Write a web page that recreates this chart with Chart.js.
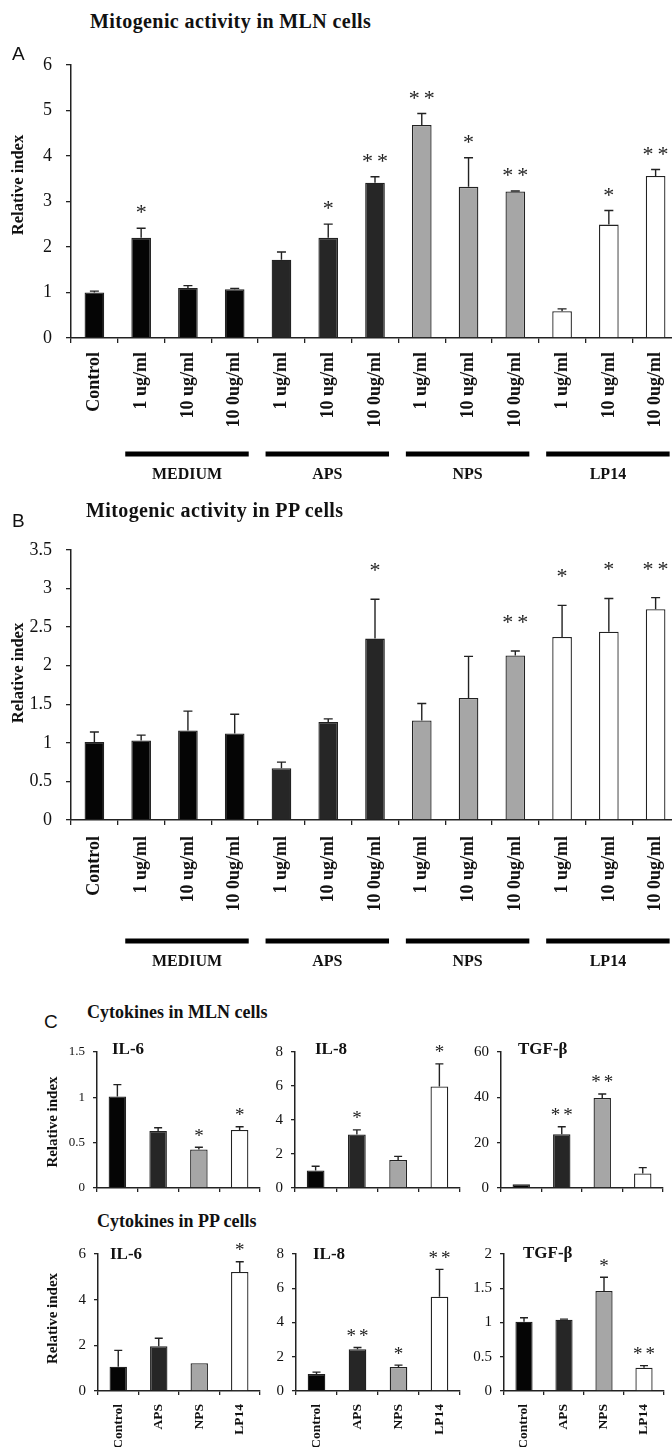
<!DOCTYPE html>
<html><head><meta charset="utf-8">
<script src="https://cdn.jsdelivr.net/npm/chart.js@4.4.1/dist/chart.umd.min.js"></script>
<style>
html,body{margin:0;padding:0;background:#fff;width:672px;height:1447px;overflow:hidden;position:relative}
canvas{position:absolute}
.t{position:absolute;white-space:nowrap;line-height:1;color:#111;z-index:5}
.sb{font-family:'Liberation Serif','Times New Roman',serif;font-weight:bold}
.ss{font-family:'Liberation Sans',Arial,sans-serif}
</style></head><body>
<div class="t ss" style="left:12px;top:44px;font-size:19px">A</div>
<div class="t sb" style="left:90px;top:11px;font-size:20px;letter-spacing:0.4px">Mitogenic activity in MLN cells</div>
<div class="t ss" style="left:12px;top:511px;font-size:19px">B</div>
<div class="t sb" style="left:86px;top:500px;font-size:20px;letter-spacing:0.4px">Mitogenic activity in PP cells</div>
<div class="t ss" style="left:44px;top:1012px;font-size:19px">C</div>
<div class="t sb" style="left:87px;top:1003px;font-size:18px">Cytokines in MLN cells</div>
<div class="t sb" style="left:97px;top:1212px;font-size:18px">Cytokines in PP cells</div>
<div class="t sb" style="left:112px;top:1040px;font-size:17px">IL-6</div>
<div class="t sb" style="left:315px;top:1040px;font-size:17px">IL-8</div>
<div class="t sb" style="left:518px;top:1040px;font-size:17px">TGF-β</div>
<div class="t sb" style="left:110px;top:1245px;font-size:17px">IL-6</div>
<div class="t sb" style="left:313px;top:1245px;font-size:17px">IL-8</div>
<div class="t sb" style="left:523px;top:1244px;font-size:17px">TGF-β</div>
<script>
// ---------- data ----------
const mitoLabels = ['Control','1 ug/ml','10 ug/ml','10 0ug/ml','1 ug/ml','10 ug/ml','10 0ug/ml','1 ug/ml','10 ug/ml','10 0ug/ml','1 ug/ml','10 ug/ml','10 0ug/ml'];
const mitoKinds = ['ctrl','med','med','med','aps','aps','aps','nps','nps','nps','lp','lp','lp'];
const groupNames = ['MEDIUM','APS','NPS','LP14'];
const groupFirst = [1,4,7,10];
const groupLast = [3,6,9,12];
const mitoTicks = [0,1,2,3,4,5,6];
const ppTicks = [0,0.5,1,1.5,2,2.5,3,3.5];

const mlnMean = [1.00, 2.20, 1.10, 1.07, 1.72, 2.20, 3.41, 4.68, 3.32, 3.22, 0.59, 2.49, 3.56];
const mlnErr  = [0.03, 0.21, 0.05, 0.02, 0.17, 0.30, 0.13, 0.25, 0.64, 0.01, 0.05, 0.31, 0.14];
const mlnStars = ['', '*', '', '', '', '*', '**', '**', '*', '**', '', '*', '**'];

const ppMean = [1.01, 1.03, 1.16, 1.12, 0.67, 1.27, 2.35, 1.29, 1.58, 2.13, 2.37, 2.44, 2.73];
const ppErr  = [0.13, 0.07, 0.25, 0.25, 0.08, 0.04, 0.51, 0.22, 0.54, 0.06, 0.41, 0.43, 0.15];
const ppStars = ['', '', '', '', '', '', '*', '', '', '**', '*', '*', '**'];

const cytoLabels = ['Control','APS','NPS','LP14'];
const cytoKinds = ['ctrl','aps','nps','lp'];

const mlnIL6 = [1.01, 0.63, 0.425, 0.64];
const mlnIL6Err = [0.13, 0.035, 0.025, 0.035];
const mlnIL6Stars = ['', '', '*', '*'];
const mlnIL8 = [1.03, 3.15, 1.65, 5.97];
const mlnIL8Err = [0.25, 0.27, 0.21, 1.33];
const mlnIL8Stars = ['', '*', '', '*'];
const mlnTGF = [1.6, 23.7, 39.7, 6.4];
const mlnTGFErr = [0, 3.3, 1.8, 2.6];
const mlnTGFStars = ['', '**', '**', ''];

const ppIL6 = [1.06, 1.96, 1.22, 5.21];
const ppIL6Err = [0.72, 0.35, 0, 0.45];
const ppIL6Stars = ['', '', '', '*'];
const ppIL8 = [1.00, 2.44, 1.40, 5.50];
const ppIL8Err = [0.10, 0.10, 0.11, 1.60];
const ppIL8Stars = ['', '**', '*', '**'];
const ppTGF = [1.01, 1.04, 1.46, 0.34];
const ppTGFErr = [0.06, 0.01, 0.20, 0.03];
const ppTGFStars = ['', '', '*', '**'];

// ---------- drawing ----------
const COLORS = {ctrl:'#050505', med:'#050505', aps:'#262626', nps:'#a6a6a6', lp:'#ffffff'};
const SERIF = "'Liberation Serif','Times New Roman',serif";

function build(o){
  const cv = document.createElement('canvas');
  cv.width = o.cw; cv.height = o.ch;
  cv.style.left = o.cx + 'px'; cv.style.top = o.cy + 'px';
  cv.style.width = o.cw + 'px'; cv.style.height = o.ch + 'px';
  document.body.appendChild(cv);
  const yW = o.area.l - o.cx;
  const padTop = o.area.t - o.cy;
  const padRight = o.cx + o.cw - o.area.r;
  const xH = o.cy + o.ch - o.area.b;

  const extras = {
    id:'extras',
    afterDatasetsDraw(chart){
      const ctx = chart.ctx, xs = chart.scales.x, ys = chart.scales.y;
      ctx.save();
      ctx.strokeStyle = '#222'; ctx.lineWidth = 1.4;
      o.mean.forEach((v,i)=>{
        const e = o.err[i]; if(!e) return;
        const x = xs.getPixelForValue(i);
        const y0 = ys.getPixelForValue(v), y1 = ys.getPixelForValue(v + e);
        ctx.beginPath();
        ctx.moveTo(x, y0); ctx.lineTo(x, y1);
        ctx.moveTo(x - o.cap/2, y1); ctx.lineTo(x + o.cap/2, y1);
        ctx.stroke();
      });
      ctx.fillStyle = '#222';
      ctx.font = o.starSize + 'px ' + SERIF;
      ctx.textAlign = 'center'; ctx.textBaseline = 'alphabetic';
      o.stars.forEach((s,i)=>{
        if(!s) return;
        const x = xs.getPixelForValue(i);
        const yTop = ys.getPixelForValue(o.mean[i] + (o.err[i]||0));
        const target = yTop - o.starOff;
        const sp = s.length > 1 ? o.starGap : 0;
        ctx.letterSpacing = sp + 'px';
        const m = ctx.measureText(s);
        const y = target + (m.actualBoundingBoxAscent - m.actualBoundingBoxDescent)/2;
        ctx.fillText(s, x + sp/2, y);
      });
      ctx.letterSpacing = '0px';
      ctx.restore();
    },
    afterDraw(chart){
      const ctx = chart.ctx, xs = chart.scales.x;
      ctx.save();
      if(o.yTitle){
        ctx.translate(o.yTitle.x - o.cx, o.yTitle.y - o.cy);
        ctx.rotate(-Math.PI/2);
        ctx.font = 'bold ' + o.yTitle.size + 'px ' + SERIF;
        ctx.fillStyle = '#111'; ctx.textAlign = 'center'; ctx.textBaseline = 'middle';
        ctx.fillText('Relative index', 0, 0);
        ctx.setTransform(1,0,0,1,0,0);
      }
      if(o.groups){
        const catW = xs.width / o.labels.length;
        ctx.font = 'bold ' + o.groups.size + 'px ' + SERIF;
        ctx.textAlign = 'center'; ctx.textBaseline = 'alphabetic';
        o.groups.names.forEach((n,g)=>{
          const x1 = xs.getPixelForValue(o.groups.first[g]) - 0.34*catW;
          const x2 = xs.getPixelForValue(o.groups.last[g]) + 0.30*catW;
          ctx.fillStyle = '#000';
          ctx.fillRect(x1, o.groups.lineY - o.cy - 2.5, x2 - x1, 5);
          ctx.fillStyle = '#111';
          ctx.fillText(n, (x1 + x2)/2, o.groups.labelY - o.cy);
        });
      }
      ctx.restore();
    }
  };

  new Chart(cv, {
    type:'bar',
    data:{labels:o.labels, datasets:[{
      data:o.mean,
      backgroundColor:o.kinds.map(k=>COLORS[k]),
      borderColor:'#222', borderWidth:1.3,
      barPercentage:o.barPct, categoryPercentage:1
    }]},
    options:{
      responsive:false, animation:false, devicePixelRatio:1,
      layout:{padding:{left:0, top:padTop, right:padRight, bottom:0}},
      plugins:{legend:{display:false}, tooltip:{enabled:false}, title:{display:false}},
      scales:{
        x:{
          type:'category', offset:true,
          grid:{offset:true, drawOnChartArea:false, drawTicks:true, tickLength:o.tickLen, color:'#222', lineWidth:1.3},
          border:{display:true, color:'#222', width:1.5},
          ticks:{display:o.showX, autoSkip:false, minRotation:90, maxRotation:90, padding:o.xPad,
                 color:'#111', font:{family:SERIF, size:o.xFont, weight:'bold'}},
          afterFit:s=>{ s.height = xH; }
        },
        y:{
          min:0, max:o.yTicks[o.yTicks.length-1],
          afterBuildTicks:s=>{ s.ticks = o.yTicks.map(v=>({value:v})); },
          ticks:{padding:o.yPad, color:'#111', font:{family:SERIF, size:o.yFont},
                 callback:v=>String(v)},
          grid:{drawOnChartArea:false, tickLength:o.tickLen, color:'#222', lineWidth:1.3},
          border:{color:'#222', width:1.5},
          afterFit:s=>{ s.width = yW; }
        }
      }
    },
    plugins:[extras]
  });
}

// Panel A
build({cx:0, cy:40, cw:700, ch:460, area:{l:71, t:61, r:679, b:338},
  labels:mitoLabels, kinds:mitoKinds, mean:mlnMean, err:mlnErr, stars:mlnStars,
  yTicks:mitoTicks, yFont:18, yPad:14, tickLen:5, showX:true, xFont:18, xPad:9,
  barPct:0.42, cap:9, starSize:22, starOff:19, starGap:4,
  yTitle:{x:19, y:185, size:16.5},
  groups:{names:groupNames, first:groupFirst, last:groupLast, lineY:454, labelY:479, size:16}});

// Panel B
build({cx:0, cy:525, cw:700, ch:460, area:{l:71, t:543.3, r:679, b:820},
  labels:mitoLabels, kinds:mitoKinds, mean:ppMean, err:ppErr, stars:ppStars,
  yTicks:ppTicks, yFont:18, yPad:14, tickLen:5, showX:true, xFont:18, xPad:11,
  barPct:0.42, cap:9, starSize:22, starOff:32, starGap:4,
  yTitle:{x:19, y:673, size:16.5},
  groups:{names:groupNames, first:groupFirst, last:groupLast, lineY:941, labelY:966, size:16}});

// Panel C
const topRow = {t:1052, b:1188};
const botRow = {t:1253.5, b:1391};
function small(l, r, row, mean, err, stars, ticks, yFont, bottom, yTitleY){
  build({cx:l-60, cy:row.t-20, cw:(r-l)+70, ch:(row.b-row.t)+20+(bottom?90:22),
    area:{l:l, t:row.t, r:r, b:row.b},
    labels:cytoLabels, kinds:cytoKinds, mean:mean, err:err, stars:stars,
    yTicks:ticks, yFont:yFont, yPad:8, tickLen:4, showX:bottom, xFont:13.5, xPad:9,
    barPct:0.43, cap:8, starSize:19, starOff:15, starGap:3,
    yTitle: yTitleY ? {x:53, y:yTitleY, size:15} : null});
}
small(97, 260, topRow, mlnIL6, mlnIL6Err, mlnIL6Stars, [0,0.5,1,1.5], 13, false, 1122);
small(295, 460, topRow, mlnIL8, mlnIL8Err, mlnIL8Stars, [0,2,4,6,8], 15, false, null);
small(501, 663, topRow, mlnTGF, mlnTGFErr, mlnTGFStars, [0,20,40,60], 15, false, null);
small(98, 260, botRow, ppIL6, ppIL6Err, ppIL6Stars, [0,2,4,6], 15, true, 1318);
small(296, 460, botRow, ppIL8, ppIL8Err, ppIL8Stars, [0,2,4,6,8], 15, true, null);
small(504, 664, botRow, ppTGF, ppTGFErr, ppTGFStars, [0,0.5,1,1.5,2], 15, true, null);
</script>
</body></html>
